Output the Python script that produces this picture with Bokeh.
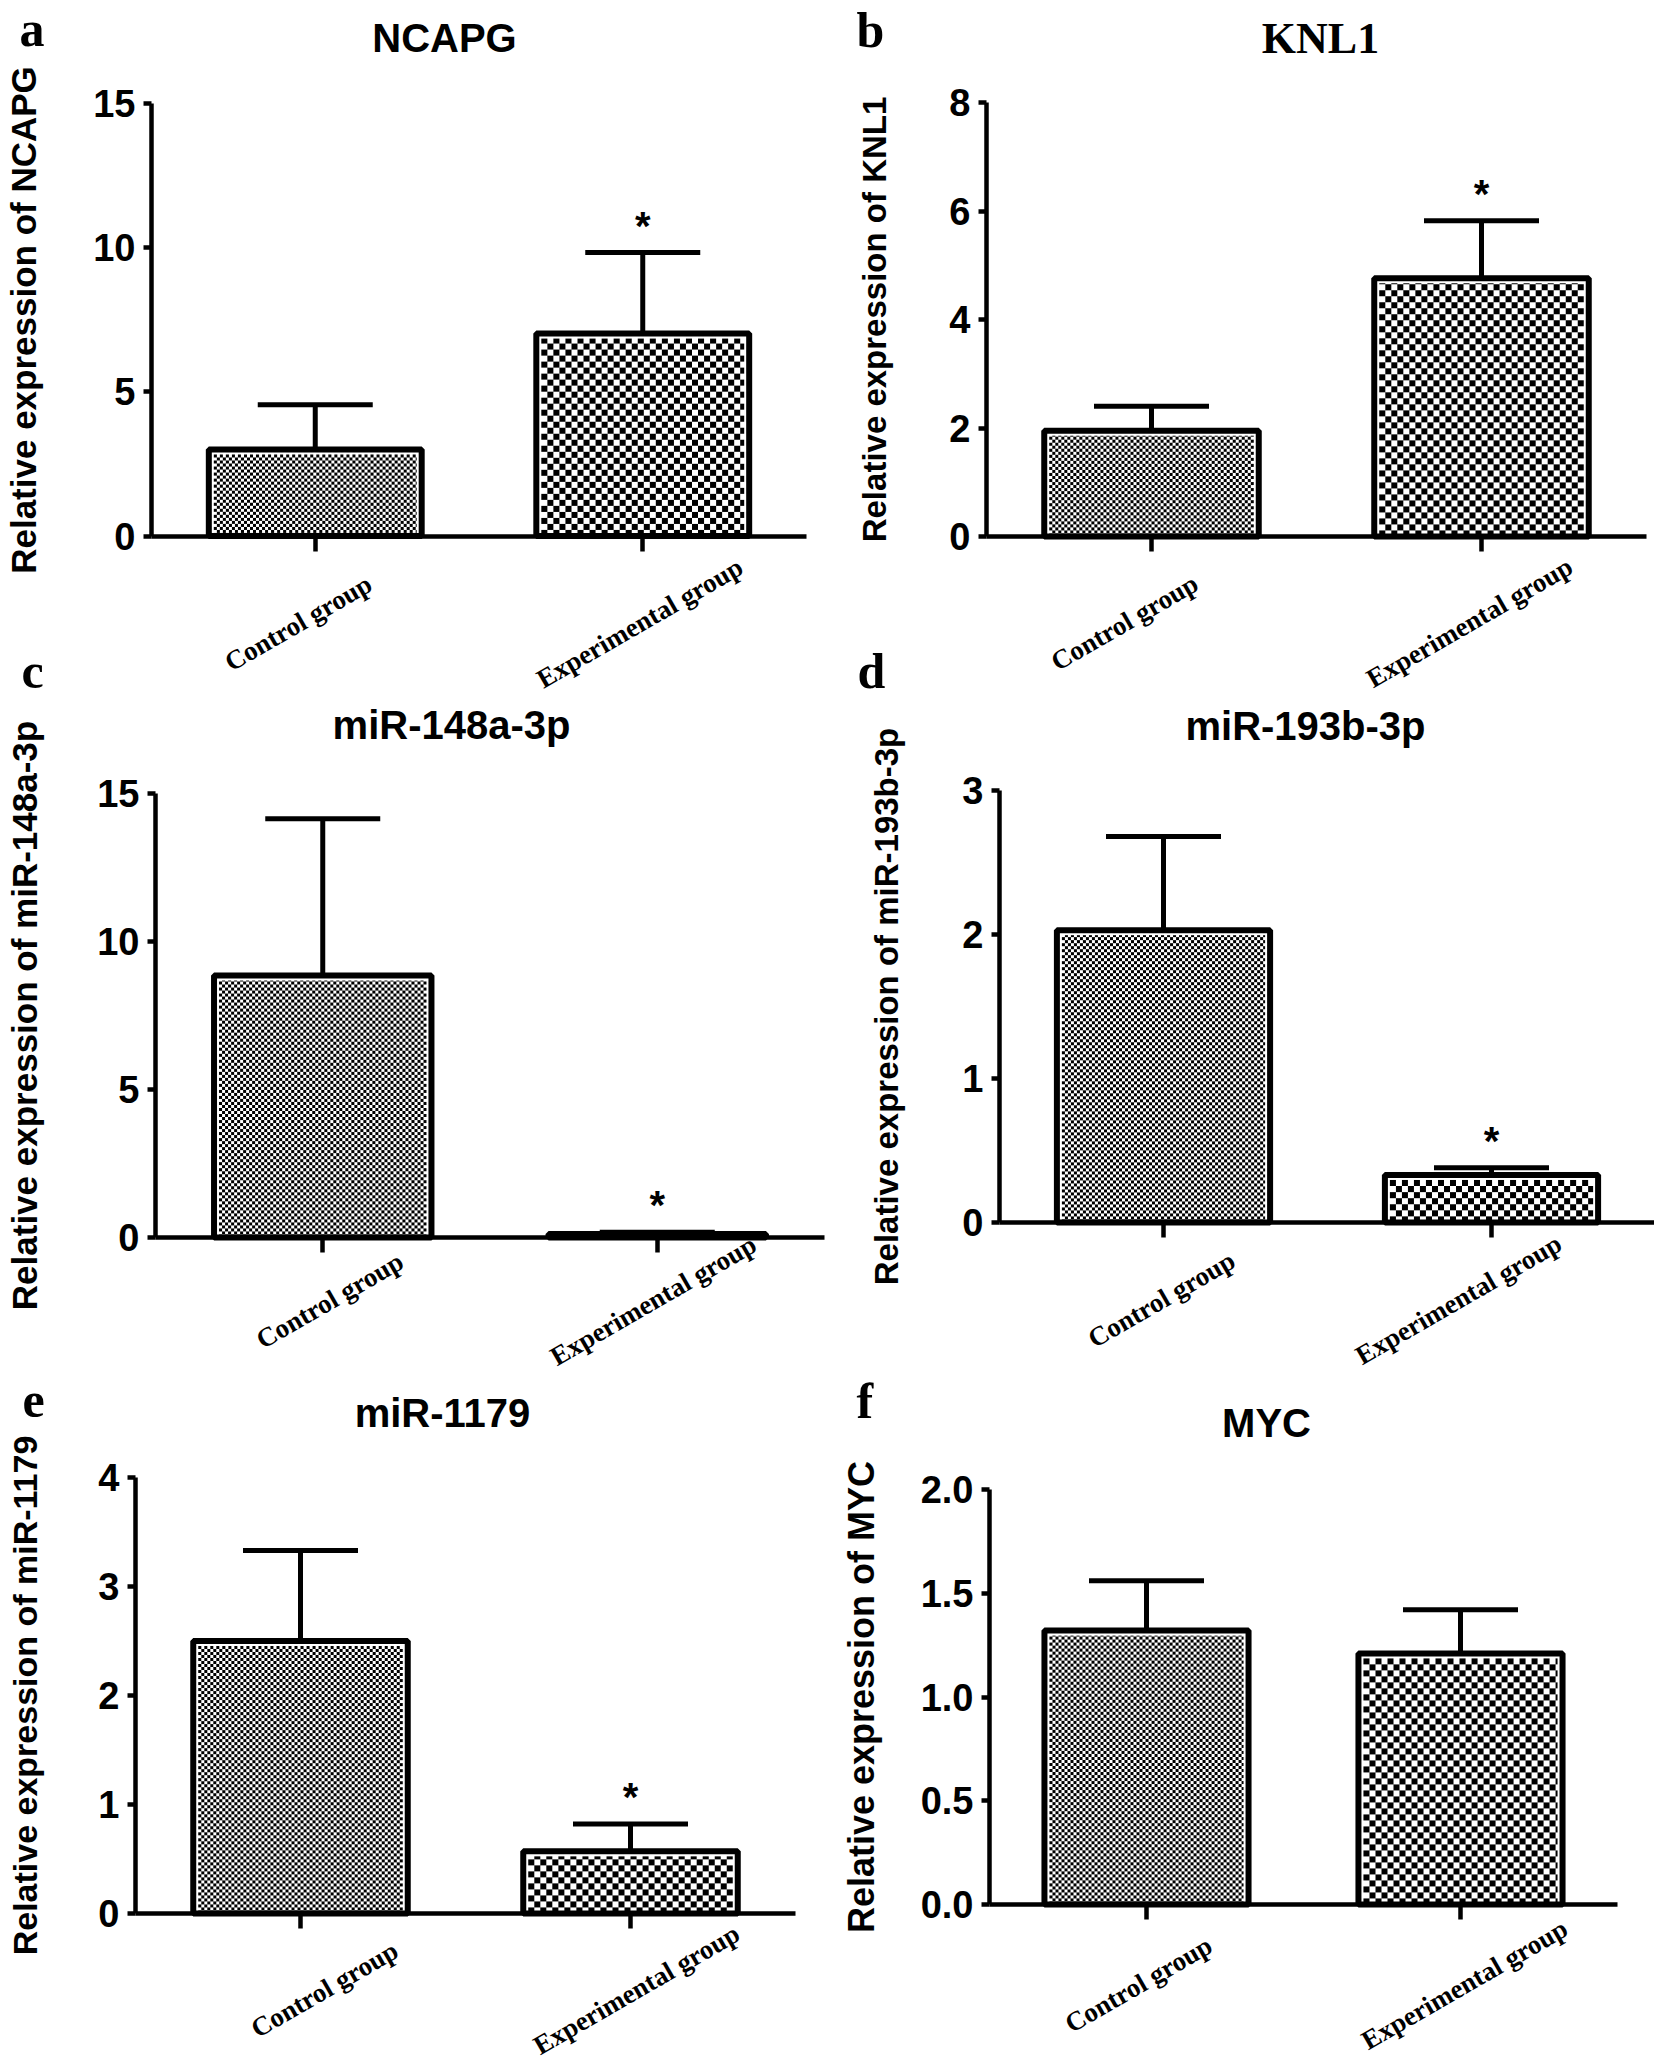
import math
import numpy as np
from bokeh.plotting import figure
from bokeh.models import (Range1d, FixedTicker, Whisker, TeeHead, ColumnDataSource,
                          LabelSet, Label, PrintfTickFormatter)
from bokeh.layouts import column, row
from bokeh.core.properties import value
from bokeh.embed import file_html
from bokeh.resources import INLINE

# ---------------- data ----------------
groups = ["Control group", "Experimental group"]

titles = ["NCAPG", "KNL1", "miR-148a-3p", "miR-193b-3p", "miR-1179", "MYC"]
letters = ["a", "b", "c", "d", "e", "f"]

ncapg_mean = [3.00, 7.02]
ncapg_err = [1.55, 2.81]
knl1_mean = [1.95, 4.76]
knl1_err = [0.45, 1.06]
mir148_mean = [8.85, 0.12]
mir148_err = [5.30, 0.06]
mir193_mean = [2.03, 0.33]
mir193_err = [0.65, 0.05]
mir1179_mean = [2.50, 0.57]
mir1179_err = [0.83, 0.25]
myc_mean = [1.32, 1.21]
myc_err = [0.24, 0.21]

ncapg_ticks = [0, 5, 10, 15]
knl1_ticks = [0, 2, 4, 6, 8]
mir148_ticks = [0, 5, 10, 15]
mir193_ticks = [0, 1, 2, 3]
mir1179_ticks = [0, 1, 2, 3, 4]
myc_ticks = [0, 0.5, 1.0, 1.5, 2.0]

ncapg_sig = ["", "*"]
knl1_sig = ["", "*"]
mir148_sig = ["", "*"]
mir193_sig = ["", "*"]
mir1179_sig = ["", "*"]
myc_sig = ["", ""]

series = [
    (ncapg_mean, ncapg_err, ncapg_ticks, ncapg_sig),
    (knl1_mean, knl1_err, knl1_ticks, knl1_sig),
    (mir148_mean, mir148_err, mir148_ticks, mir148_sig),
    (mir193_mean, mir193_err, mir193_ticks, mir193_sig),
    (mir1179_mean, mir1179_err, mir1179_ticks, mir1179_sig),
    (myc_mean, myc_err, myc_ticks, myc_sig),
]

# ---------------- layout / style (page pixels) ----------------
SANS = "Liberation Sans"
SERIF = "Liberation Serif"
fig_box = [(0, 0, 827, 700), (827, 0, 827, 700),
           (0, 700, 827, 672), (827, 700, 827, 672),
           (0, 1372, 827, 694), (827, 1372, 827, 694)]
# plot area: left (y axis), right, top (ymax), bottom (zero line)
area = [(151, 806, 103, 535.5), (986, 1646, 102, 536),
        (155, 824, 793, 1237), (999, 1655, 790, 1222),
        (135, 795, 1477, 1913), (989, 1617, 1489, 1904)]
title_xy = [(444, 37), (1320, 38), (451, 724), (1305, 725), (442, 1412), (1266, 1422)]
title_font = [SANS, SERIF, SANS, SANS, SANS, SANS]
letter_xy = [(19, 28), (856, 29), (21, 670), (857, 670), (22, 1400), (856, 1400)]
letter_host = [0, 1, 0, 1, 4, 5]
ylab_size = [35, 33, 35, 33, 34, 36]
ylab_standoff = [47, 53, 50, 54, 51, 36]
xlab_dx = [[-17, -3], [-27, -12], [7, -4], [-2, -33], [24, 6], [-8, 4]]
xlab_dy = [-87, -86, -63, -77, -76, -80]
tick_fmt = [None, None, None, None, None, "%.1f"]
BAR_W = 0.65
CELL = [3, 6]
INSET = 5


def checker(cols, rows, cell):
    yy, xx = np.mgrid[0:rows, 0:cols]
    on = ((yy // cell) + (xx // cell)) % 2 == 0
    img = np.empty((rows, cols), dtype=np.uint32)
    view = img.view(dtype=np.uint8).reshape((rows, cols, 4))
    view[...] = 255
    view[on, 0] = 0
    view[on, 1] = 0
    view[on, 2] = 0
    return img


figs = []
for i, (mean, err, ticks, sig) in enumerate(series):
    fx, fy, fw, fh = fig_box[i]
    L, R, T, B = area[i]
    n = len(groups)
    ymax = ticks[-1]
    sx = (R - L) / n
    sy = (B - T) / ymax
    x0 = -(L - fx) / sx
    x1 = (fx + fw - L) / sx
    y0 = -(fy + fh - B) / sy
    y1 = ymax + (T - fy) / sy

    p = figure(x_range=Range1d(x0, x1), y_range=Range1d(y0, y1),
               width=fw, height=fh, min_border=0,
               min_border_left=0, min_border_right=0,
               min_border_top=0, min_border_bottom=0,
               output_backend="svg", toolbar_location=None, tools="")
    p.outline_line_color = None
    p.xgrid.grid_line_color = None
    p.ygrid.grid_line_color = None
    p.background_fill_color = "white"
    p.border_fill_color = "white"

    xpos = [k + 0.5 for k in range(n)]
    upper = [m + e for m, e in zip(mean, err)]
    src = ColumnDataSource(dict(x=xpos, group=groups, mean=mean, upper=upper,
                                sig=sig, dx=xlab_dx[i]))

    # checkerboard fill of the bars
    for k in range(n):
        w_d = BAR_W - 2 * INSET / sx
        h_d = mean[k] - INSET / sy
        cols = int(round(w_d * sx))
        rows = int(round(h_d * sy))
        if rows >= 1 and cols >= 1:
            p.image_rgba(image=[checker(cols, rows, CELL[k])],
                         x=xpos[k] - w_d / 2, y=0, dw=w_d, dh=h_d)

    p.vbar(x="x", top="mean", width=BAR_W, bottom=0, source=src,
           fill_color=None, line_color="black", line_width=6)

    p.add_layout(Whisker(source=src, base="x", lower="mean", upper="upper",
                         line_width=5, line_color="black",
                         upper_head=TeeHead(size=115, line_width=5, line_color="black"),
                         lower_head=None))

    # axes, fixed at the data origin
    p.xaxis.fixed_location = 0
    p.yaxis.fixed_location = 0
    p.xaxis.bounds = (0, n)
    p.yaxis.bounds = (0, ymax)
    for ax in (p.xaxis, p.yaxis):
        ax.axis_line_width = 4.5
        ax.axis_line_color = "black"
        ax.major_tick_line_width = 4.5
        ax.major_tick_line_color = "black"
        ax.minor_tick_line_color = None
        ax.major_tick_in = 0
    p.xaxis.ticker = FixedTicker(ticks=xpos)
    p.xaxis.major_tick_out = 15
    p.xaxis.major_label_text_color = None
    p.xaxis.major_label_text_font_size = "1px"

    p.yaxis.ticker = FixedTicker(ticks=ticks)
    if tick_fmt[i]:
        p.yaxis.formatter = PrintfTickFormatter(format=tick_fmt[i])
    p.yaxis.major_tick_out = 8
    p.yaxis.major_label_standoff = 8
    p.yaxis.major_label_text_font = SANS
    p.yaxis.major_label_text_font_style = "bold"
    p.yaxis.major_label_text_font_size = "38px"
    p.yaxis.major_label_text_color = "black"
    p.yaxis.axis_label = "Relative expression of " + titles[i]
    p.yaxis.axis_label_text_font = SANS
    p.yaxis.axis_label_text_font_style = "bold"
    p.yaxis.axis_label_text_font_size = "%dpx" % ylab_size[i]
    p.yaxis.axis_label_text_color = "black"
    p.yaxis.axis_label_standoff = ylab_standoff[i]

    # rotated category labels
    p.add_layout(LabelSet(source=src, x="x", y=0, text="group",
                          x_offset="dx", y_offset=xlab_dy[i],
                          angle=math.radians(30), text_align="center",
                          text_baseline="middle", text_font=value(SERIF),
                          text_font_style="bold", text_font_size="27px",
                          text_color="black"))
    # significance stars
    p.add_layout(LabelSet(source=src, x="x", y="upper", text="sig",
                          y_offset=13, text_align="center",
                          text_baseline="alphabetic", text_font=value(SANS),
                          text_font_style="bold", text_font_size="40px",
                          text_color="black"))
    # panel title
    tx, ty = title_xy[i]
    p.add_layout(Label(x=0, y=0, text=titles[i],
                       x_offset=tx - L, y_offset=B - ty,
                       text_align="center", text_baseline="middle",
                       text_font=title_font[i], text_font_style="bold",
                       text_font_size="44px" if title_font[i] == SERIF else "40px",
                       text_color="black"))
    figs.append(p)

for k, host in enumerate(letter_host):
    L, R, T, B = area[host]
    lx, ly = letter_xy[k]
    figs[host].add_layout(Label(x=0, y=0, text=letters[k],
                                x_offset=lx - L, y_offset=B - ly,
                                text_align="left", text_baseline="middle",
                                text_font=SERIF, text_font_style="bold",
                                text_font_size="50px", text_color="black"))

layout = column(row(figs[0], figs[1]), row(figs[2], figs[3]), row(figs[4], figs[5]))
open("out.html", "w").write(file_html(layout, INLINE))
